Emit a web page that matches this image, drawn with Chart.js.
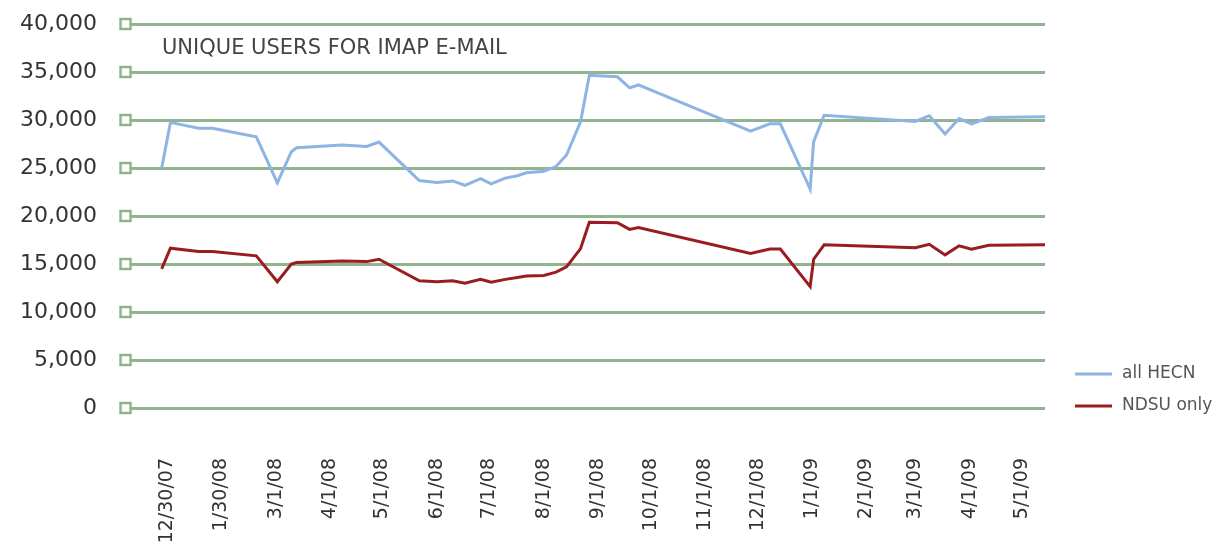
<!DOCTYPE html>
<html>
<head>
<meta charset="utf-8">
<script src="https://cdn.jsdelivr.net/npm/chart.js@4.4.1/dist/chart.umd.min.js"></script>
<style>
  html, body { margin: 0; padding: 0; background: #fff; }
  #wrap { width: 1218px; height: 546px; }
</style>
</head>
<body>
<div id="wrap"><canvas id="grafico"></canvas></div>
<script>
const chartTitle = 'UNIQUE USERS FOR IMAP E-MAIL';

const dates = ['12/27/07', '1/1/08', '1/17/08', '1/25/08', '2/19/08', '3/2/08', '3/10/08', '3/13/08',
    '4/8/08', '4/22/08', '4/29/08', '5/22/08', '6/1/08', '6/10/08', '6/17/08', '6/26/08', '7/2/08',
    '7/10/08', '7/17/08', '7/22/08', '8/1/08', '8/8/08', '8/14/08', '8/22/08', '8/27/08', '9/12/08',
    '9/19/08', '9/24/08', '11/27/08', '12/8/08', '12/14/08', '12/31/08', '1/2/09', '1/8/09', '3/1/09',
    '3/9/09', '3/18/09', '3/26/09', '4/2/09', '4/12/09', '5/14/09'];

const allHecn = [25000, 29750, 29150, 29150, 28250, 23450, 26700, 27100, 27400, 27250, 27700, 23700,
    23500, 23650, 23200, 23900, 23350, 23950, 24200, 24500, 24650, 25150, 26350, 29800, 34650, 34500,
    33350, 33650, 28850, 29600, 29600, 22800, 27750, 30500, 29850, 30450, 28550, 30150, 29600, 30250, 30350];

const ndsuOnly = [14500, 16650, 16300, 16300, 15850, 13150, 15000, 15150, 15300, 15250, 15500, 13250,
    13150, 13250, 13000, 13400, 13100, 13400, 13600, 13750, 13800, 14150, 14700, 16600, 19350, 19300,
    18600, 18800, 16100, 16550, 16550, 12650, 15500, 17000, 16700, 17050, 15950, 16900, 16550, 16950, 17000];

const tickLabels = ['12/30/07', '1/30/08', '3/1/08', '4/1/08', '5/1/08', '6/1/08', '7/1/08', '8/1/08',
    '9/1/08', '10/1/08', '11/1/08', '12/1/08', '1/1/09', '2/1/09', '3/1/09', '4/1/09', '5/1/09'];

const seriesNames = ['all HECN', 'NDSU only'];
const seriesColors = ['#8db4e2', '#9b1c20'];

const gridColor = '#90b48f';
const fontFam = "'DejaVu Sans', sans-serif";

// dias desde 12/30/07
function dayNum(s) {
    const [m, d, y] = s.split('/').map(Number);
    return Math.round((Date.UTC(2000 + y, m - 1, d) - Date.UTC(2007, 11, 30)) / 86400000);
}

const decor = {
    id: 'decor',
    beforeDatasetsDraw(chart) {
        const { ctx, chartArea, scales } = chart;
        const y = scales.y;
        ctx.save();
        // quadradinhos no inicio das linhas de grade
        ctx.strokeStyle = gridColor;
        ctx.lineWidth = 2.5;
        ctx.fillStyle = '#fff';
        y.ticks.forEach(t => {
            const py = y.getPixelForValue(t.value);
            ctx.fillRect(chartArea.left - 10.5, py - 5, 10, 10);
            ctx.strokeRect(chartArea.left - 10.5, py - 5, 10, 10);
        });
        // titulo
        ctx.fillStyle = '#444';
        ctx.font = '21px ' + fontFam;
        ctx.textBaseline = 'alphabetic';
        ctx.textAlign = 'left';
        ctx.fillText(chartTitle, chartArea.left + 31, chartArea.top + 30);
        ctx.restore();
    },
    afterDraw(chart) {
        const { ctx, chartArea } = chart;
        ctx.save();
        ctx.font = '17px ' + fontFam;
        ctx.textBaseline = 'middle';
        ctx.textAlign = 'left';
        chart.data.datasets.forEach((ds, i) => {
            const ly = chartArea.bottom - 34 + i * 32;
            ctx.strokeStyle = ds.borderColor;
            ctx.lineWidth = 3;
            ctx.beginPath();
            ctx.moveTo(chartArea.right + 30, ly);
            ctx.lineTo(chartArea.right + 67, ly);
            ctx.stroke();
            ctx.fillStyle = '#555';
            ctx.fillText(ds.label, chartArea.right + 77, ly);
        });
        ctx.restore();
    }
};

const ctx = document.getElementById('grafico');

const chart = new Chart(ctx, {
    type: 'line',
    data: {
        datasets: [{
            label: seriesNames[0],
            data: dates.map((d, i) => ({ x: dayNum(d), y: allHecn[i] })),
            borderColor: seriesColors[0],
            backgroundColor: seriesColors[0],
            borderWidth: 3
        }, {
            label: seriesNames[1],
            data: dates.map((d, i) => ({ x: dayNum(d), y: ndsuOnly[i] })),
            borderColor: seriesColors[1],
            backgroundColor: seriesColors[1],
            borderWidth: 3
        }]
    },
    options: {
        responsive: true,
        maintainAspectRatio: false,
        animation: false,
        layout: { padding: { top: 24, right: 173, left: 0, bottom: 0 } },
        elements: { point: { radius: 0 }, line: { tension: 0 } },
        plugins: {
            legend: { display: false },
            tooltip: { enabled: false }
        },
        scales: {
            x: {
                type: 'linear',
                min: -20.5,
                max: 501,
                grid: { display: false, drawTicks: false },
                border: { display: false },
                afterBuildTicks: scale => {
                    scale.ticks = tickLabels.map(l => ({ value: dayNum(l) }));
                },
                afterFit: scale => { scale.height = 138; },
                ticks: {
                    autoSkip: false,
                    minRotation: 90,
                    maxRotation: 90,
                    padding: 50,
                    color: '#333',
                    font: { family: fontFam, size: 19 },
                    callback: (v, i) => tickLabels[i]
                }
            },
            y: {
                min: 0,
                max: 40000,
                grid: { color: gridColor, lineWidth: 3, drawTicks: true, tickLength: 26, tickColor: 'rgba(0,0,0,0)' },
                border: { display: false },
                afterFit: scale => { scale.width = 131; },
                ticks: {
                    stepSize: 5000,
                    padding: 8,
                    color: '#333',
                    font: { family: fontFam, size: 22 },
                    callback: v => v.toLocaleString('en-US')
                }
            }
        }
    },
    plugins: [decor]
});
</script>
</body>
</html>
